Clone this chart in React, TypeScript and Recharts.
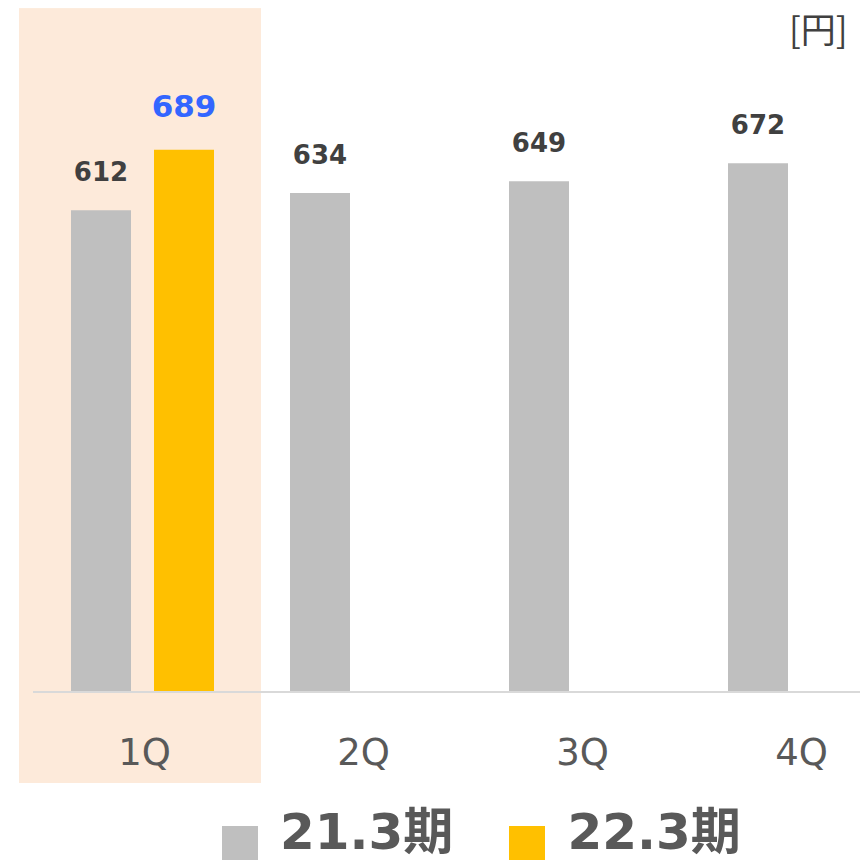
import React from 'react';
import { BarChart, Bar, XAxis, YAxis, ReferenceArea, LabelList, Legend } from 'recharts';

const quarters = ['1Q', '2Q', '3Q', '4Q'];
const fy21 = [612, 634, 649, 672];
const fy22: (number | null)[] = [689, null, null, null];
const seriesNames = ['21.3期', '22.3期'];

const COLORS = {
  prev: '#BFBFBF',
  curr: '#FFC000',
  highlight: '#FDEADA',
  axis: '#D9D9D9',
  label: '#404040',
  accent: '#3366FF',
  text: '#595959',
};

const FONT = "'DejaVu Sans', 'Noto Sans CJK JP', sans-serif";

const data = quarters.map((q, i) => ({ quarter: q, fy21: fy21[i], fy22: fy22[i] }));

const ValueLabel = (accent: boolean) => (props: any) => {
  const { x, y, width, value } = props;
  if (value == null) return null;
  return (
    <text
      x={x + width / 2}
      y={y - (accent ? 33 : 29)}
      textAnchor="middle"
      fontFamily={FONT}
      fontWeight="bold"
      fontSize={accent ? 31 : 26}
      fill={accent ? COLORS.accent : COLORS.label}
    >
      {value}
    </text>
  );
};

const QuarterTick = (props: any) => {
  const { x, y, payload } = props;
  return (
    <text x={x + 2} y={y + 65} textAnchor="middle" fontFamily={FONT} fontSize={37} fill={COLORS.text}>
      {payload.value}
    </text>
  );
};

const HighlightShape = (props: any) => {
  const { x, y, width, height } = props;
  return <rect x={x - 14} y={y} width={width + 23} height={height} fill={COLORS.highlight} />;
};

const LegendContent = () => (
  <div style={{ display: 'flex', alignItems: 'flex-end', paddingLeft: 222, fontFamily: FONT }}>
    {[COLORS.prev, COLORS.curr].map((c, i) => (
      <div key={i} style={{ display: 'flex', alignItems: 'flex-end', marginRight: 56 }}>
        <div style={{ width: 36, height: 34, background: c, marginRight: 22, marginBottom: -3 }} />
        <span style={{ fontSize: 50, fontWeight: 'bold', color: COLORS.text, lineHeight: '50px' }}>
          {seriesNames[i]}
        </span>
      </div>
    ))}
  </div>
);

export default function App() {
  return (
    <div style={{ position: 'absolute', left: 0, top: 0, width: 860, height: 862, overflow: 'hidden', background: '#fff' }}>
      <BarChart
        width={909}
        height={862}
        data={data}
        margin={{ top: 62.4, right: 0, left: 33, bottom: 80 }}
        barSize={60}
        barGap={23}
      >
        <ReferenceArea x1="1Q" x2="1Q" y1={-115.6} y2={869} ifOverflow="visible" shape={HighlightShape} />
        <XAxis
          dataKey="quarter"
          height={90}
          tickLine={false}
          axisLine={{ stroke: COLORS.axis, strokeWidth: 2 }}
          tick={QuarterTick}
          interval={0}
        />
        <YAxis hide domain={[0, 800]} />
        <Legend
          layout="horizontal"
          verticalAlign="middle"
          align="center"
          content={LegendContent}
          wrapperStyle={{ left: 0, top: 807, width: 860 }}
        />
        <Bar dataKey="fy21" name={seriesNames[0]} fill={COLORS.prev} isAnimationActive={false}>
          <LabelList dataKey="fy21" content={ValueLabel(false)} />
        </Bar>
        <Bar dataKey="fy22" name={seriesNames[1]} fill={COLORS.curr} isAnimationActive={false}>
          <LabelList dataKey="fy22" content={ValueLabel(true)} />
        </Bar>
      </BarChart>
      <div
        style={{
          position: 'absolute',
          left: 789,
          top: 2,
          fontFamily: "'Noto Sans CJK JP', sans-serif",
          fontSize: 35,
          color: COLORS.label,
        }}
      >
        [円]
      </div>
    </div>
  );
}
